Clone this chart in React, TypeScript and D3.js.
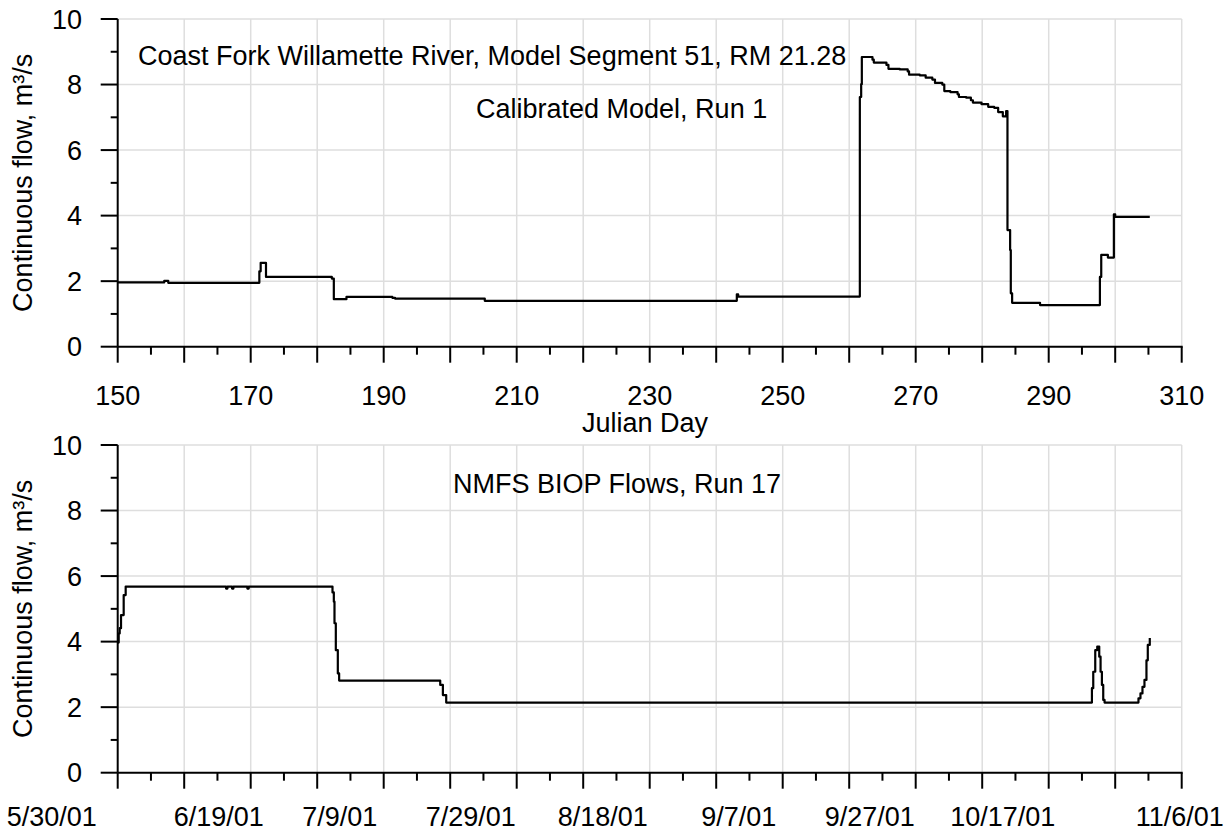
import React from 'react';
import * as d3 from 'd3';

// ---- Data (Julian day where a step begins, flow in m3/s) ----
const topDays = [150.0, 157.0, 157.6, 171.3, 171.5, 172.3, 182.2, 182.5, 184.4, 191.3, 191.7, 205.2, 243.1, 243.3,
  261.6, 261.8, 261.9, 263.5, 263.7, 265.6, 265.9, 267.6, 268.8, 269.0, 270.6, 271.5, 272.5, 272.9, 274.0, 274.3,
  275.2, 276.3, 276.5, 277.6, 278.3, 278.6, 279.9, 280.9, 281.8, 282.4, 283.1, 283.6, 283.8, 284.2, 284.3, 284.5,
  288.7, 297.7, 297.9, 298.9, 299.8, 300.0, 305.2];
const topFlow = [1.96, 2.01, 1.95, 2.3, 2.56, 2.13, 2.08, 1.45, 1.52, 1.49, 1.47, 1.40, 1.60, 1.53,
  7.62, 8.01, 8.84, 8.76, 8.67, 8.60, 8.48, 8.46, 8.40, 8.30, 8.28, 8.21, 8.15, 8.05, 8.00, 7.80,
  7.77, 7.70, 7.62, 7.60, 7.52, 7.45, 7.40, 7.32, 7.29, 7.16, 7.03, 7.19, 3.56, 2.95, 1.63, 1.34,
  1.27, 2.13, 2.80, 2.72, 4.04, 3.96, 3.96];

const bottomDays = [150.0, 150.15, 150.3, 150.5, 150.9, 151.2, 166.3, 166.5, 167.2, 167.4, 169.5, 169.7,
  182.3, 182.5, 182.6, 182.8, 183.1, 183.3, 198.5, 198.9, 199.4, 296.5, 296.7, 297.0, 297.3, 297.6, 297.8,
  298.0, 298.2, 298.4, 303.5, 303.8, 304.1, 304.4, 304.7, 304.9, 305.2];
const bottomFlow = [3.97, 4.25, 4.41, 4.81, 5.42, 5.68, 5.62, 5.68, 5.62, 5.68, 5.62, 5.68,
  5.50, 5.22, 4.56, 3.74, 3.03, 2.81, 2.68, 2.37, 2.14, 2.58, 3.08, 3.74, 3.85, 3.54, 3.08,
  2.68, 2.22, 2.14, 2.27, 2.42, 2.62, 2.83, 3.43, 3.90, 4.11];

const yLabelTicks = [0, 2, 4, 6, 8, 10];
const xLabelDays = [150, 170, 190, 210, 230, 250, 270, 290, 310];
const topXLabels = ['150', '170', '190', '210', '230', '250', '270', '290', '310'];
const bottomXLabels = ['5/30/01', '6/19/01', '7/9/01', '7/29/01', '8/18/01', '9/7/01', '9/27/01', '10/17/01', '11/6/01'];
const topLabelShift = [0, 0, 0, 0, 0, 0, 0, 0, 0];
const bottomLabelShift = [-66, -32, -44, -46, -47, -44, -46, -46, -2];

const FONT = '"Liberation Sans", Arial, Helvetica, sans-serif';
const FS = 27;
const X0 = 117.7;
const X1 = 1181.7;

type PanelProps = {
  top: number;
  bottom: number;
  days: number[];
  flows: number[];
  labels: string[];
  shifts: number[];
  labelBaseline: number;
};

function Panel({ top, bottom, days, flows, labels, shifts, labelBaseline }: PanelProps) {
  const x = d3.scaleLinear().domain([150, 310]).range([X0, X1]);
  const y = d3.scaleLinear().domain([0, 10]).range([bottom, top]);
  const gridX = d3.range(160, 311, 10);
  const gridY = d3.range(2, 11, 2);
  const majorX = d3.range(150, 311, 10);
  const minorX = d3.range(155, 310, 10);
  const majorY = d3.range(0, 11, 2);
  const minorY = d3.range(1, 10, 2);
  const pts: [number, number][] = days.map((d, i) => [d, flows[i]]);
  const line = d3.line<[number, number]>()
    .x(d => x(d[0]))
    .y(d => y(d[1]))
    .curve(d3.curveStepAfter);
  return (
    <g>
      {gridX.map(d => (
        <line key={'gx' + d} x1={x(d)} x2={x(d)} y1={top} y2={bottom} stroke="#dedede" strokeWidth={1.5} />
      ))}
      {gridY.map(v => (
        <line key={'gy' + v} x1={X0} x2={X1} y1={y(v)} y2={y(v)} stroke="#dedede" strokeWidth={1.5} />
      ))}
      <path d={line(pts) || ''} fill="none" stroke="#000" strokeWidth={2.2} strokeLinejoin="round" />
      <line x1={X0} x2={X0} y1={top} y2={bottom} stroke="#000" strokeWidth={2} />
      <line x1={X0} x2={X1 + 1} y1={bottom} y2={bottom} stroke="#000" strokeWidth={2} />
      {majorX.map(d => (
        <line key={'mx' + d} x1={x(d)} x2={x(d)} y1={bottom} y2={bottom + 16} stroke="#000" strokeWidth={2} />
      ))}
      {minorX.map(d => (
        <line key={'nx' + d} x1={x(d)} x2={x(d)} y1={bottom} y2={bottom + 8} stroke="#000" strokeWidth={2} />
      ))}
      {majorY.map(v => (
        <line key={'my' + v} x1={X0 - 17} x2={X0} y1={y(v)} y2={y(v)} stroke="#000" strokeWidth={2} />
      ))}
      {minorY.map(v => (
        <line key={'ny' + v} x1={X0 - 7} x2={X0} y1={y(v)} y2={y(v)} stroke="#000" strokeWidth={2} />
      ))}
      {yLabelTicks.map(v => (
        <text key={'yl' + v} x={82} y={y(v) + 9.5} textAnchor="end" fontSize={FS} fontFamily={FONT} fill="#000">
          {v}
        </text>
      ))}
      {xLabelDays.map((d, i) => (
        <text key={'xl' + d} x={x(d) + shifts[i]} y={labelBaseline} textAnchor="middle" fontSize={FS} fontFamily={FONT} fill="#000">
          {labels[i]}
        </text>
      ))}
      <text
        transform={`translate(32,${(top + bottom) / 2}) rotate(-90)`}
        textAnchor="middle"
        fontSize={FS}
        fontFamily={FONT}
        fill="#000"
      >
        Continuous flow, m³/s
      </text>
    </g>
  );
}

export default function App() {
  return (
    <svg
      width={1231}
      height={837}
      style={{ position: 'absolute', left: 0, top: 0, background: '#fff' }}
    >
      <rect x={0} y={0} width={1231} height={837} fill="#fff" />
      <Panel top={19} bottom={346.7} days={topDays} flows={topFlow} labels={topXLabels} shifts={topLabelShift} labelBaseline={405} />
      <Panel top={445} bottom={772.7} days={bottomDays} flows={bottomFlow} labels={bottomXLabels} shifts={bottomLabelShift} labelBaseline={826} />
      <text x={138} y={65} fontSize={FS} fontFamily={FONT} fill="#000">
        Coast Fork Willamette River, Model Segment 51, RM 21.28
      </text>
      <text x={476} y={118} fontSize={FS} fontFamily={FONT} fill="#000">
        Calibrated Model, Run 1
      </text>
      <text x={645} y={432} textAnchor="middle" fontSize={FS} fontFamily={FONT} fill="#000">
        Julian Day
      </text>
      <text x={453} y={493} fontSize={FS} fontFamily={FONT} fill="#000">
        NMFS BIOP Flows, Run 17
      </text>
    </svg>
  );
}
